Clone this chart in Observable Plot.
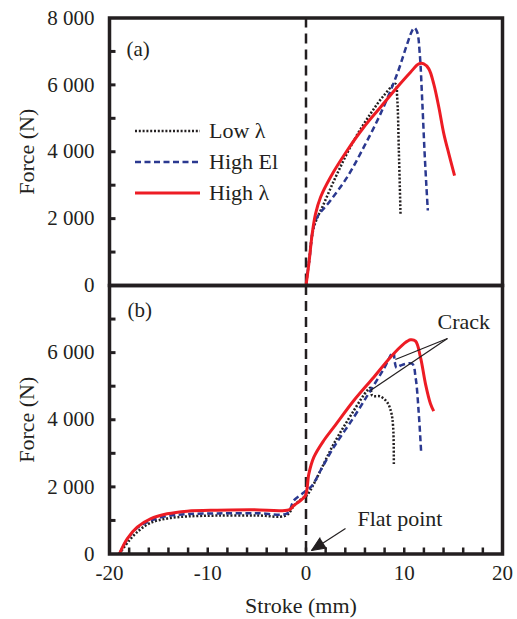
<!DOCTYPE html>
<html><head><meta charset="utf-8">
<script src="https://cdn.jsdelivr.net/npm/d3@7"></script>
<script src="https://cdn.jsdelivr.net/npm/@observablehq/plot@0.6"></script>
<style>
body{margin:0;background:#fff;}
#chart{position:relative;width:517px;height:619px;}
#chart svg{position:absolute;left:0;top:0;}
</style></head><body><div id="chart"></div>
<script>
// ---------- data ----------
const series = ["Low λ", "High El", "High λ"];

// Panel (a)
const aLowX  = [0, 0.3, 0.8, 1.81, 3.17, 4.87, 6.56, 7.92, 9.11, 9.28, 9.45, 9.62];
const aLowY  = [0, 700, 1744, 2443, 3340, 4336, 5133, 5681, 6030, 5630, 4037, 2144];
const aElX   = [0, 0.35, 0.97, 2.49, 4.19, 5.88, 7.58, 9.28, 10.3, 10.81, 11.04, 11.32, 11.58, 11.83, 12.06, 12.26, 12.4];
const aElY   = [0, 800, 1944, 2542, 3239, 4136, 5133, 6329, 7226, 7625, 7705, 7575, 6927, 5530, 4037, 2939, 2243];
const aHighX = [0, 0.29, 0.63, 0.97, 1.48, 2.49, 4.19, 5.88, 7.58, 9.28, 10.64, 11.48, 11.99, 12.5, 13.0, 13.52, 14.03, 14.54, 15.12];
const aHighY = [0, 648, 1545, 2143, 2641, 3239, 4037, 4733, 5331, 5929, 6378, 6628, 6628, 6478, 6030, 5331, 4534, 3936, 3289];

// Panel (b)
const bLowX  = [-19, -18, -17, -15.8, -14.1, -12, -9, -5, -2, -1.2, -0.4, 0.1, 0.8, 1.81, 2.83, 4.87, 6.23, 6.56, 6.74, 7.58, 8.26, 8.67, 8.87, 8.94];
const bLowY  = [0, 400, 700, 930, 1060, 1120, 1145, 1150, 1150, 1450, 1650, 1750, 2091, 2687, 3283, 4276, 4872, 4951, 4723, 4693, 4524, 4226, 3779, 2637];
const bElX   = [-19, -18.2, -17.2, -15.8, -14.1, -12.1, -9, -5, -1.9, -1.24, -0.39, 0.05, 0.63, 1.48, 2.83, 4.87, 6.56, 7.92, 8.87, 9.04, 9.21, 9.62, 10.81, 11.15, 11.48, 11.72];
const bElY   = [0, 430, 770, 1000, 1130, 1190, 1210, 1215, 1215, 1594, 1794, 1892, 2041, 2488, 3183, 4077, 4872, 5517, 6013, 5715, 5547, 5616, 5666, 5268, 4177, 3033];
const bHighX = [-19, -18.2, -17.18, -15.83, -14.13, -12.1, -9.04, -5.31, -1.75, -1.24, -0.56, -0.05, 0.29, 0.8, 1.81, 2.83, 4.87, 6.9, 8.6, 9.95, 10.64, 11.15, 11.65, 12.16, 12.67, 13.0];
const bHighY = [0, 452, 800, 1048, 1197, 1277, 1307, 1317, 1317, 1445, 1594, 1743, 2389, 2885, 3382, 3779, 4574, 5269, 5865, 6262, 6381, 6341, 5865, 5071, 4475, 4256];

// Axes ticks
const xTickLabels = [-20, -10, 0, 10, 20];
const xMinorTicks = [-18, -16, -14, -12, -10, -8, -6, -4, -2, 0, 2, 4, 6, 8, 10, 12, 14, 16, 18];
const yTicksA = [0, 2000, 4000, 6000, 8000];
const yTicksB = [0, 2000, 4000, 6000];
const yMinorTicks = [1000, 2000, 3000, 4000, 5000, 6000, 7000];

// Annotations (data coordinates)
const crackLabel = {x: 13.38, y: 6927, text: "Crack"};
const crackFromX = [14.4, 14.4], crackFromY = [6420, 6420];
const crackToX = [9.1, 6.56], crackToY = [5795, 4871];
const flatLabel = {x: 5.24, y: 1058, text: "Flat point"};
const flatFrom = {x: 4.02, y: 760}, flatTip = {x: 0.56, y: 104};

// ---------- build ----------
const W = 517, H = 619, mL = 109, mR = 15;
const ink = "#231f20";
const font = '"Liberation Serif", "Times New Roman", Tinos, "Nimbus Roman", Times, serif';
const styles = {
  "Low λ":  {stroke: "#231f20", strokeWidth: 2.5, strokeDasharray: "2,1.8"},
  "High El":{stroke: "#2b3990", strokeWidth: 2.5, strokeDasharray: "6,3.5"},
  "High λ": {stroke: "#ed1c24", strokeWidth: 3}
};
const rows = (name, xs, ys) => xs.map((x, i) => ({series: name, x, y: ys[i]}));
const dataA = [...rows("Low λ", aLowX, aLowY), ...rows("High El", aElX, aElY), ...rows("High λ", aHighX, aHighY)];
const dataB = [...rows("Low λ", bLowX, bLowY), ...rows("High El", bElX, bElY), ...rows("High λ", bHighX, bHighY)];
const curves = data => series.map(s => Plot.line(data.filter(d => d.series === s), {x: "x", y: "y", curve: "catmull-rom", strokeLinecap: "butt", ...styles[s]}));
const fmt = d => d3.format(",")(d).replace(/,/g, " ");
const style = {background: "transparent", fontFamily: font, fontSize: "21px", color: ink, overflow: "visible"};

const topA = 17.5, midY = 285, botB = 553.5;
const frameW = W - mL - mR;

const plotA = Plot.plot({
  width: W, height: H, marginTop: topA, marginBottom: H - midY, marginLeft: mL, marginRight: mR,
  style,
  x: {domain: [-20, 20], axis: null},
  y: {domain: [0, 8000], ticks: yTicksA, tickSize: 0, tickPadding: 15, tickFormat: fmt, label: null},
  marks: [
    Plot.ruleY(yMinorTicks, {stroke: ink, strokeWidth: 3, insetRight: frameW - 6.5}),
    Plot.ruleX([0], {stroke: ink, strokeWidth: 2.5, strokeDasharray: "10,6"}),
    ...curves(dataA),
    Plot.text(["(a)"], {text: d => d, frameAnchor: "top-left", textAnchor: "start", lineAnchor: "middle", dx: 17, dy: 31, fontSize: 21, fill: ink}),
    Plot.text(["Force (N)"], {text: d => d, frameAnchor: "left", textAnchor: "middle", lineAnchor: "middle", rotate: -90, dx: -83, fontSize: 22, fill: ink}),
    Plot.frame({stroke: ink, strokeWidth: 3.5})
  ]
});

const plotB = Plot.plot({
  width: W, height: H, marginTop: midY, marginBottom: H - botB, marginLeft: mL, marginRight: mR,
  style,
  x: {domain: [-20, 20], ticks: xTickLabels, tickSize: 0, tickPadding: 11, tickFormat: d => String(d), label: null},
  y: {domain: [0, 8000], ticks: yTicksB, tickSize: 0, tickPadding: 15, tickFormat: fmt, label: null},
  marks: [
    Plot.ruleY(yMinorTicks, {stroke: ink, strokeWidth: 3, insetRight: frameW - 6.5}),
    Plot.ruleX(xMinorTicks, {stroke: ink, strokeWidth: 2.5, insetTop: (botB - midY) - 6}),
    Plot.ruleX([0], {stroke: ink, strokeWidth: 2.5, strokeDasharray: "10,6"}),
    ...curves(dataB),
    Plot.link(crackToX, {x1: (d, i) => crackFromX[i], y1: (d, i) => crackFromY[i], x2: (d, i) => crackToX[i], y2: (d, i) => crackToY[i], stroke: ink, strokeWidth: 1.2}),
    Plot.text([crackLabel], {x: "x", y: "y", text: "text", textAnchor: "start", lineAnchor: "middle", fontSize: 22, fill: ink}),
    Plot.link([flatFrom], {x1: "x", y1: "y", x2: () => flatTip.x, y2: () => flatTip.y, stroke: ink, strokeWidth: 1.2}),
    Plot.vector([flatTip], {x: "x", y: "y", rotate: 237, length: 14, r: 6, shape: "spike", anchor: "end", fill: ink, stroke: ink, strokeWidth: 1}),
    Plot.text([flatLabel], {x: "x", y: "y", text: "text", textAnchor: "start", lineAnchor: "middle", fontSize: 22, fill: ink}),
    Plot.text(["(b)"], {text: d => d, frameAnchor: "top-left", textAnchor: "start", lineAnchor: "middle", dx: 18, dy: 24.5, fontSize: 21, fill: ink}),
    Plot.text(["Force (N)"], {text: d => d, frameAnchor: "left", textAnchor: "middle", lineAnchor: "middle", rotate: -90, dx: -83, fontSize: 22, fill: ink}),
    Plot.text(["Stroke (mm)"], {text: d => d, frameAnchor: "bottom", textAnchor: "middle", lineAnchor: "middle", dx: -5, dy: 51.5, fontSize: 22, fill: ink}),
    Plot.frame({stroke: ink, strokeWidth: 3.5})
  ]
});

const chart = document.getElementById("chart");
chart.append(plotA, plotB);

// Legend (panel a)
const legendSvg = d3.create("svg").attr("width", W).attr("height", H).style("overflow", "visible");
const legendY = [131, 162, 193];
series.forEach((s, i) => {
  const st = styles[s];
  legendSvg.append("line").attr("x1", 135).attr("x2", 200).attr("y1", legendY[i]).attr("y2", legendY[i])
    .attr("stroke", st.stroke).attr("stroke-width", st.strokeWidth).attr("stroke-dasharray", st.strokeDasharray || null);
  legendSvg.append("text").attr("x", 209).attr("y", legendY[i] + 7).style("font-family", font).attr("font-size", 22)
    .attr("fill", ink).text(s);
});
chart.append(legendSvg.node());
</script></body></html>
